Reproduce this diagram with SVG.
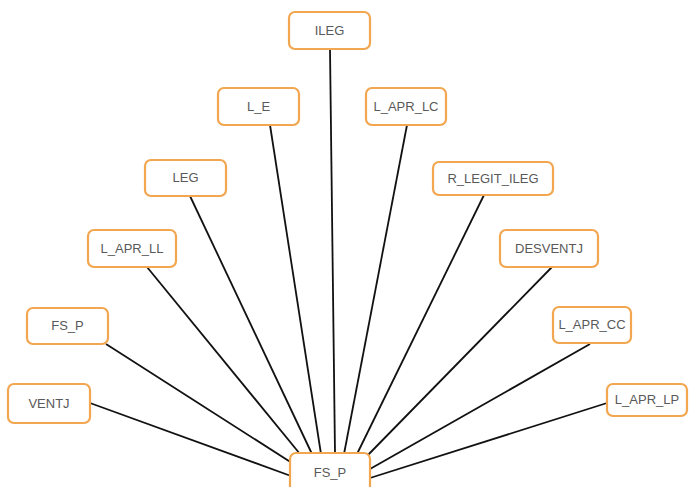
<svg xmlns="http://www.w3.org/2000/svg" width="690" height="487" viewBox="0 0 690 487">
<style>
.box{fill:#fff;stroke:#F2A650;stroke-width:2.2}
.lbl{font-family:"Liberation Sans",Arial,sans-serif;font-size:13px;fill:#595959;text-anchor:middle}
.ln{stroke:#111;stroke-width:1.8;fill:none}
</style>
<rect width="690" height="487" fill="#fff"/>
<g id="connectors">
<line class="ln" x1="90" y1="403" x2="291" y2="476"/>
<line class="ln" x1="106" y1="344" x2="292" y2="463"/>
<line class="ln" x1="147" y1="267" x2="300" y2="454"/>
<line class="ln" x1="190" y1="196" x2="312" y2="454"/>
<line class="ln" x1="270" y1="125" x2="321" y2="454"/>
<line class="ln" x1="330" y1="49" x2="335" y2="454"/>
<line class="ln" x1="407" y1="125" x2="344" y2="454"/>
<line class="ln" x1="484" y1="195" x2="357" y2="454"/>
<line class="ln" x1="552" y1="267" x2="367" y2="456"/>
<line class="ln" x1="590" y1="344" x2="370" y2="469"/>
<line class="ln" x1="607" y1="403" x2="370" y2="478"/>
</g>
<g id="ILEG"><rect class="box" x="289" y="12" width="81" height="37" rx="6"/><text class="lbl" x="329.5" y="35">ILEG</text></g>
<g id="L_E"><rect class="box" x="218" y="88" width="81" height="37" rx="6"/><text class="lbl" x="258.5" y="111">L_E</text></g>
<g id="L_APR_LC"><rect class="box" x="366" y="88" width="80" height="37" rx="6"/><text class="lbl" x="406" y="111">L_APR_LC</text></g>
<g id="LEG"><rect class="box" x="145" y="160" width="81" height="36" rx="6"/><text class="lbl" x="185.5" y="182">LEG</text></g>
<g id="R_LEGIT_ILEG"><rect class="box" x="433" y="162" width="120" height="33" rx="6"/><text class="lbl" x="493" y="183">R_LEGIT_ILEG</text></g>
<g id="L_APR_LL"><rect class="box" x="88" y="230" width="88" height="37" rx="6"/><text class="lbl" x="132" y="253">L_APR_LL</text></g>
<g id="DESVENTJ"><rect class="box" x="500" y="230" width="98" height="37" rx="6"/><text class="lbl" x="549" y="253">DESVENTJ</text></g>
<g id="FS_P_left"><rect class="box" x="27" y="308" width="81" height="36" rx="6"/><text class="lbl" x="67.5" y="330">FS_P</text></g>
<g id="L_APR_CC"><rect class="box" x="553" y="307" width="78" height="36" rx="6"/><text class="lbl" x="592" y="329">L_APR_CC</text></g>
<g id="VENTJ"><rect class="box" x="8" y="384" width="82" height="39" rx="6"/><text class="lbl" x="49" y="408">VENTJ</text></g>
<g id="L_APR_LP"><rect class="box" x="607" y="384" width="80" height="32" rx="6"/><text class="lbl" x="647" y="404">L_APR_LP</text></g>
<g id="FS_P"><rect class="box" x="290" y="453" width="80" height="42" rx="6"/><text class="lbl" x="330" y="477">FS_P</text></g>
</svg>
